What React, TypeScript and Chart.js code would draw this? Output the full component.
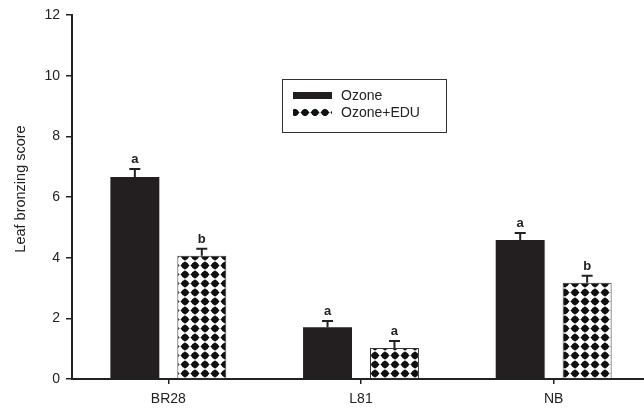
import React, { useEffect, useRef } from "react";
import { Chart, registerables } from "chart.js";

Chart.register(...registerables);

const categories = ["BR28", "L81", "NB"];
const seriesNames = ["Ozone", "Ozone+EDU"];
const ozoneValues = [6.66, 1.71, 4.58];
const ozoneErrors = [0.26, 0.2, 0.23];
const eduValues = [4.06, 1.02, 3.17];
const eduErrors = [0.23, 0.23, 0.23];
const ozoneLetters = ["a", "a", "a"];
const eduLetters = ["b", "a", "b"];
const yTicks = [0, 2, 4, 6, 8, 10, 12];
const yTitle = "Leaf bronzing score";

const FONT = "'Liberation Sans', Arial, sans-serif";
const INK = "#222";

function makePattern(): CanvasPattern | string {
  const tile = document.createElement("canvas");
  tile.width = 10;
  tile.height = 9;
  const c = tile.getContext("2d");
  if (!c) return "#888";
  c.fillStyle = "#fff";
  c.fillRect(0, 0, 10, 9);
  c.fillStyle = "#111";
  c.beginPath();
  c.moveTo(5, 0.3);
  c.lineTo(9.6, 4.5);
  c.lineTo(5, 8.7);
  c.lineTo(0.4, 4.5);
  c.closePath();
  c.fill();
  c.beginPath();
  c.arc(5, 4.5, 3.3, 0, Math.PI * 2);
  c.fill();
  const p = c.createPattern(tile, "repeat");
  return p || "#888";
}

export default function App() {
  const ref = useRef<HTMLCanvasElement>(null);
  useEffect(() => {
    if (!ref.current) return;
    const pattern = makePattern();
    const errs = [ozoneErrors, eduErrors];
    const letters = [ozoneLetters, eduLetters];

    const extras = {
      id: "extras",
      afterDatasetsDraw(chart: any) {
        const ctx = chart.ctx;
        const ys = chart.scales.y;
        chart.data.datasets.forEach((ds: any, di: number) => {
          const meta = chart.getDatasetMeta(di);
          meta.data.forEach((el: any, i: number) => {
            const v = ds.data[i];
            const top = ys.getPixelForValue(v + errs[di][i]);
            ctx.save();
            ctx.strokeStyle = INK;
            ctx.lineWidth = 2;
            ctx.beginPath();
            ctx.moveTo(el.x, el.y);
            ctx.lineTo(el.x, top);
            ctx.moveTo(el.x - 5.5, top);
            ctx.lineTo(el.x + 5.5, top);
            ctx.stroke();
            ctx.fillStyle = INK;
            ctx.font = `bold 13px ${FONT}`;
            ctx.textAlign = "center";
            ctx.textBaseline = "alphabetic";
            ctx.fillText(letters[di][i], el.x, top - 6);
            ctx.restore();
          });
        });
      },
      afterDraw(chart: any) {
        const ctx = chart.ctx;
        ctx.save();
        ctx.fillStyle = INK;
        ctx.font = `14.5px ${FONT}`;
        ctx.textAlign = "center";
        ctx.textBaseline = "middle";
        ctx.translate(21, 189);
        ctx.rotate(-Math.PI / 2);
        ctx.fillText(yTitle, 0, 0);
        ctx.restore();

        ctx.save();
        ctx.strokeStyle = "#333";
        ctx.lineWidth = 1;
        ctx.strokeRect(282.5, 79.5, 164, 53);
        const fills = [chart.data.datasets[0].backgroundColor, chart.data.datasets[1].backgroundColor];
        const rows = [92, 109];
        seriesNames.forEach((name, i) => {
          ctx.fillStyle = fills[i];
          ctx.fillRect(293, rows[i], 39, 7);
          ctx.fillStyle = INK;
          ctx.font = `14px ${FONT}`;
          ctx.textAlign = "left";
          ctx.textBaseline = "middle";
          ctx.fillText(name, 341, rows[i] + 4);
        });
        ctx.restore();
      },
    };

    const chart = new Chart(ref.current, {
      type: "bar",
      data: {
        labels: categories,
        datasets: [
          {
            label: seriesNames[0],
            data: ozoneValues,
            backgroundColor: "#231f20",
            borderColor: "#231f20",
            borderWidth: 0,
            categoryPercentage: 0.695,
            barPercentage: 0.731,
          },
          {
            label: seriesNames[1],
            data: eduValues,
            backgroundColor: pattern as any,
            borderColor: "#333",
            borderWidth: 1,
            categoryPercentage: 0.695,
            barPercentage: 0.731,
          },
        ],
      },
      plugins: [extras],
      options: {
        animation: false,
        responsive: false,
        devicePixelRatio: 1,
        layout: { padding: { top: 15, left: 0, right: 0, bottom: 0 } },
        plugins: {
          legend: { display: false },
          tooltip: { enabled: false },
        },
        scales: {
          x: {
            grid: {
              drawOnChartArea: false,
              drawTicks: true,
              tickLength: 5,
              offset: false,
              color: INK,
              lineWidth: 1.5,
            },
            border: { color: INK, width: 2 },
            ticks: {
              color: INK,
              font: { family: FONT, size: 14 },
              padding: 7,
              maxRotation: 0,
            },
            afterFit(scale: any) {
              scale.height = 29;
            },
          },
          y: {
            min: 0,
            max: 12,
            afterBuildTicks(scale: any) {
              scale.ticks = yTicks.map((v) => ({ value: v }));
            },
            grid: {
              drawOnChartArea: false,
              drawTicks: true,
              tickLength: 6,
              color: INK,
              lineWidth: 1.5,
            },
            border: { color: INK, width: 2 },
            ticks: {
              color: INK,
              font: { family: FONT, size: 14 },
              padding: 6,
            },
            afterFit(scale: any) {
              scale.width = 72;
            },
          },
        },
      },
    });
    return () => chart.destroy();
  }, []);

  return (
    <div
      style={{
        position: "fixed",
        left: 0,
        top: 0,
        width: 644,
        height: 408,
        overflow: "hidden",
        background: "#fff",
      }}
    >
      <canvas ref={ref} width={650} height={408} style={{ display: "block" }} />
    </div>
  );
}
